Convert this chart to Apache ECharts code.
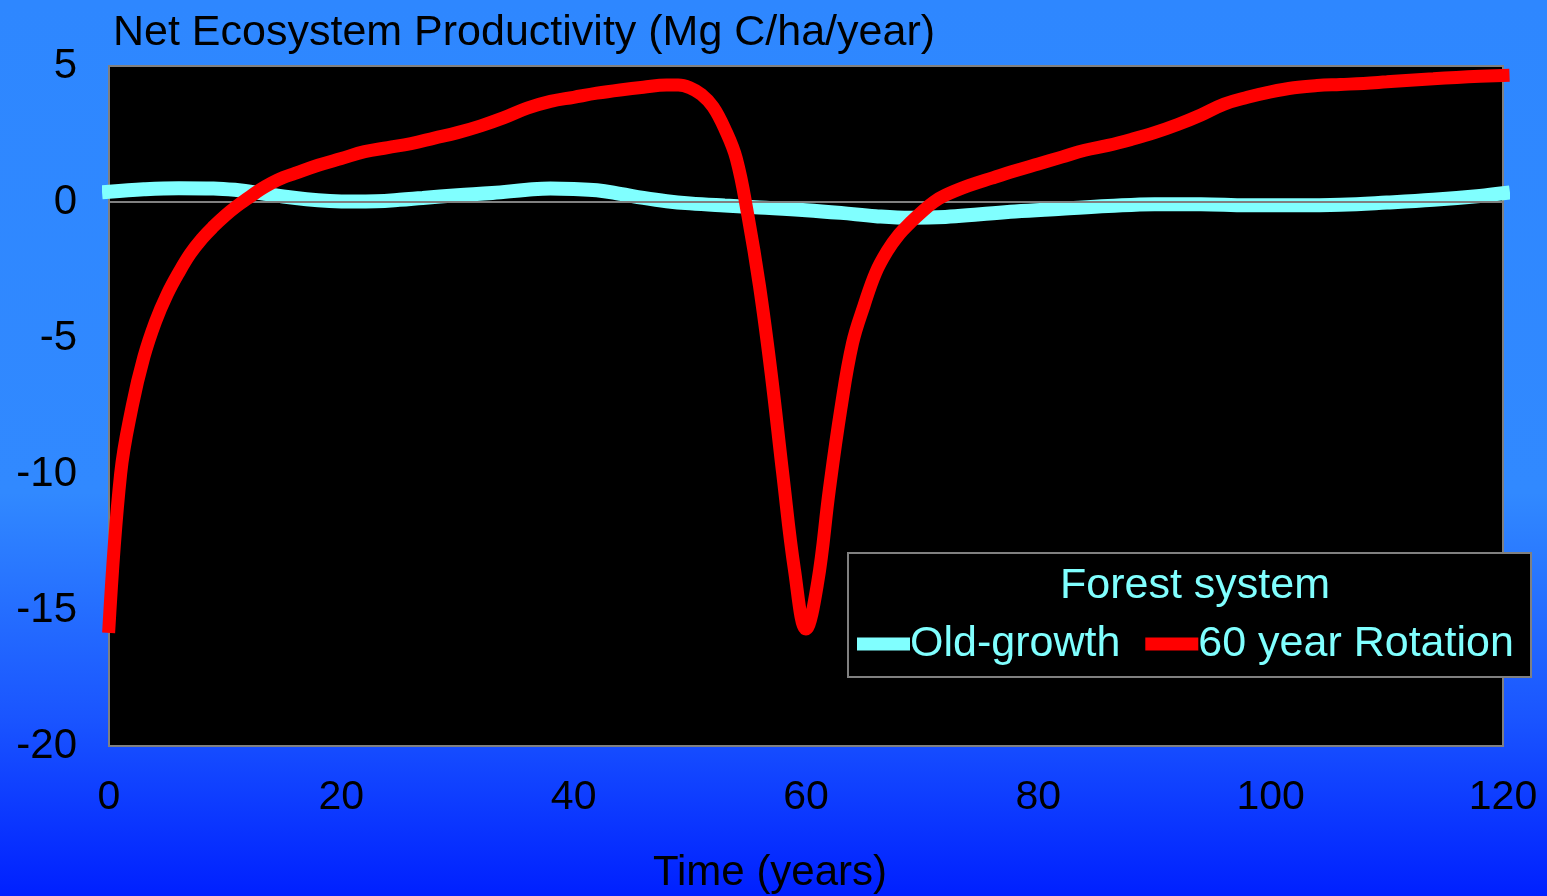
<!DOCTYPE html>
<html>
<head>
<meta charset="utf-8">
<script src="https://cdn.jsdelivr.net/npm/echarts@6/dist/echarts.min.js"></script>
<style>
html,body{margin:0;padding:0;width:1547px;height:896px;overflow:hidden;}
#chart{width:1547px;height:896px;}
</style>
</head>
<body>
<div id="chart"></div>
<script>
var chartTitle = 'Net Ecosystem Productivity (Mg C/ha/year)';
var xAxisName = 'Time (years)';
var legendTitle = 'Forest system';
var seriesNames = ['Old-growth', '60 year Rotation'];

var oldGrowthYears = [0, 3, 6, 9, 11, 13, 15, 17, 19, 21, 23, 25, 27, 30, 33, 36, 38, 40, 42, 44, 46, 48, 50, 53, 56, 60, 63, 66, 69, 72, 75, 78, 82, 86, 90, 94, 98, 102, 106, 110, 114, 118, 120];
var oldGrowthValues = [0.38, 0.47, 0.51, 0.5, 0.44, 0.33, 0.2, 0.1, 0.04, 0.02, 0.03, 0.08, 0.15, 0.25, 0.33, 0.45, 0.5, 0.48, 0.43, 0.3, 0.15, 0.03, -0.05, -0.13, -0.2, -0.3, -0.4, -0.52, -0.58, -0.55, -0.45, -0.35, -0.25, -0.15, -0.08, -0.08, -0.12, -0.12, -0.1, -0.02, 0.08, 0.22, 0.32];

var rotationYears = [0, 1, 2, 3, 4, 5, 6, 7, 8, 9, 10, 11, 12, 13, 14, 15, 16, 18, 20, 22, 24, 26, 28, 30, 32, 34, 36, 38, 40, 42, 44, 46, 48, 49, 50, 51, 52, 53, 54, 55, 56, 57, 58, 59, 60, 61, 62, 63, 64, 65, 66, 67, 68, 69, 70, 71, 72, 74, 76, 78, 80, 82, 84, 86, 88, 90, 92, 94, 96, 98, 100, 102, 104, 106, 108, 110, 112, 114, 116, 118, 120];
var rotationValues = [-15.6, -10.0, -7.5, -5.7, -4.4, -3.4, -2.6, -1.9, -1.35, -0.9, -0.5, -0.15, 0.15, 0.45, 0.7, 0.9, 1.05, 1.35, 1.6, 1.85, 2.0, 2.15, 2.35, 2.55, 2.8, 3.1, 3.45, 3.7, 3.85, 4.0, 4.12, 4.22, 4.3, 4.3, 4.2, 3.95, 3.5, 2.7, 1.6, -0.5, -3.1, -6.3, -10.0, -13.5, -15.7, -14.0, -10.6, -7.6, -5.2, -3.8, -2.6, -1.8, -1.2, -0.75, -0.35, 0.0, 0.25, 0.6, 0.88, 1.15, 1.4, 1.65, 1.9, 2.08, 2.3, 2.55, 2.85, 3.2, 3.6, 3.85, 4.05, 4.2, 4.28, 4.32, 4.36, 4.42, 4.48, 4.53, 4.58, 4.62, 4.65];

var xTicks = [0, 20, 40, 60, 80, 100, 120];
var yTicks = [-20, -15, -10, -5, 0, 5];

function pairs(xs, ys) {
  return xs.map(function (x, i) { return [x, ys[i]]; });
}

var FONT = '"Liberation Sans", Arial, Helvetica, sans-serif';
var chart = echarts.init(document.getElementById('chart'));
chart.setOption({
  animation: false,
  backgroundColor: {
    type: 'linear', x: 0, y: 0, x2: 0, y2: 1,
    colorStops: [
      { offset: 0, color: '#2E87FF' },
      { offset: 0.55, color: '#3189FF' },
      { offset: 0.8, color: '#1A55FF' },
      { offset: 1, color: '#0020FF' }
    ]
  },
  title: [
    {
      text: chartTitle, left: 108, top: 7,
      textStyle: { color: '#000', fontSize: 43, fontWeight: 'normal', fontFamily: FONT }
    },
    {
      text: legendTitle, left: 1190, top: 560, textAlign: 'center',
      textStyle: { color: '#80FFFF', fontSize: 43, fontWeight: 'normal', fontFamily: FONT },
      z: 6
    }
  ],
  graphic: [
    {
      type: 'rect', z: 5,
      shape: { x: 848, y: 553, width: 683, height: 124 },
      style: { fill: '#000', stroke: '#808080', lineWidth: 2 }
    }
  ],
  grid: {
    left: 109, right: 44, top: 66, bottom: 150,
    outerBoundsMode: 'none',
    show: true, backgroundColor: '#000', borderColor: '#808080', borderWidth: 2
  },
  legend: {
    data: seriesNames,
    left: 857, top: 621, padding: 0,
    icon: 'rect', itemWidth: 53, itemHeight: 13, itemGap: 25,
    textStyle: { color: '#80FFFF', fontSize: 43, fontFamily: FONT, lineHeight: 46, padding: [0, 0, 0, -5] },
    z: 7
  },
  xAxis: {
    type: 'value', min: 0, max: 120, interval: 20,
    name: xAxisName, nameLocation: 'middle', nameGap: 106,
    nameTextStyle: { color: '#000', fontSize: 42, fontFamily: FONT, padding: [0, 72, 0, 0] },
    axisLine: { show: false }, axisTick: { show: false }, splitLine: { show: false },
    axisLabel: {
      color: '#000', fontSize: 41, fontFamily: FONT, margin: 31,
      customValues: xTicks
    }
  },
  yAxis: {
    type: 'value', min: -20, max: 5, interval: 5,
    axisLine: { show: false }, axisTick: { show: false }, splitLine: { show: false },
    axisLabel: {
      color: '#000', fontSize: 42, fontFamily: FONT, margin: 32,
      customValues: yTicks
    }
  },
  series: [
    {
      name: seriesNames[0], type: 'line', data: pairs(oldGrowthYears, oldGrowthValues),
      smooth: 0.4, showSymbol: false, clip: false, z: 2,
      color: '#80FFFF',
      lineStyle: { color: '#80FFFF', width: 14, cap: 'square' },
      markLine: {
        silent: true, symbol: 'none', label: { show: false }, z: 3,
        lineStyle: { color: '#808080', width: 2, type: 'solid' },
        data: [{ yAxis: 0 }]
      }
    },
    {
      name: seriesNames[1], type: 'line', data: pairs(rotationYears, rotationValues),
      smooth: 0.4, showSymbol: false, clip: false, z: 4,
      color: '#FF0000',
      lineStyle: { color: '#FF0000', width: 13, cap: 'square' }
    }
  ]
});
</script>
</body>
</html>
